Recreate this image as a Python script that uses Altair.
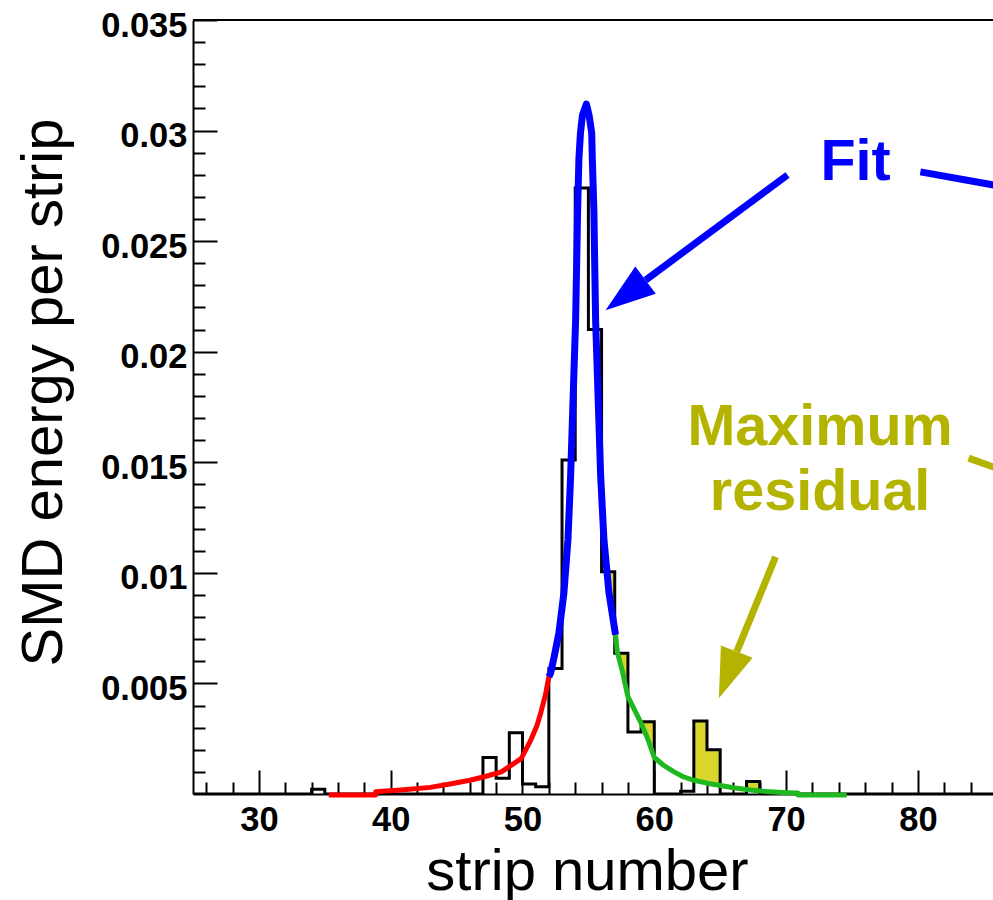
import altair as alt
import numpy as np
import pandas as pd

# ---------------- data ----------------
strip = list(range(25, 86))
energy = [
    0, 0, 0, 0, 0, 0, 0, 0, 0,            # 25-33
    0.00022,                              # 34
    0, 0, 0, 0, 0, 0, 0, 0, 0, 0, 0, 0,   # 35-46
    0.00165, 0.00071, 0.00277, 0.00045, 0.00033,   # 47-51
    0.00568, 0.0151, 0.0274, 0.0210, 0.01005,      # 52-56
    0.00636, 0.0028, 0.00327,                      # 57-59
    0, 0,                                          # 60-61
    0.00012, 0.0033, 0.0020,                       # 62-64
    0, 0,                                          # 65-66
    0.00056,                                       # 67
    0, 0, 0, 0, 0, 0, 0, 0, 0, 0, 0, 0, 0, 0, 0, 0, 0, 0,  # 68-85
]

fit_red_x = [35.3, 38.85, 38.86, 41.0, 43.0, 44.5, 46.0, 47.1, 48.4, 49.9, 50.6, 51.1, 51.4, 51.75, 52.0]
fit_red_y = [-0.00005, -0.00005, 0.0001, 0.00019, 0.0003, 0.00045, 0.00062, 0.00078, 0.001, 0.0016,
             0.0024, 0.0031, 0.0037, 0.0045, 0.0053]

fit_blue_x = [52.0, 52.13, 52.4, 52.76, 53.14, 53.45, 53.65, 53.78, 53.9, 54.03, 54.12, 54.18, 54.28,
              54.4, 54.55, 54.85, 55.05, 55.25, 55.3, 55.42, 55.47, 55.55, 55.68, 55.8, 55.93, 56.18,
              56.56, 57.06]
fit_blue_y = [0.0053, 0.00546, 0.0062, 0.00727, 0.00908, 0.0115, 0.01435, 0.01676, 0.019, 0.0214, 0.0243,
              0.0263, 0.0287, 0.0299, 0.0307, 0.0312, 0.0307, 0.0299, 0.0287, 0.0263, 0.0243, 0.0214,
              0.019, 0.0168, 0.0144, 0.0115, 0.0091, 0.0072]

fit_green_x = [57.06, 57.2, 57.6, 58.0, 58.5, 59.0, 59.5, 60.0, 60.7, 61.5, 62.2, 63.0, 64.0, 64.8,
               66.0, 67.3, 68.5, 70.0, 70.9, 70.91, 74.6]
fit_green_y = [0.0072, 0.0064, 0.0055, 0.0044, 0.0038, 0.0032, 0.0025, 0.00165, 0.0013, 0.001, 0.00078,
               0.00062, 0.00049, 0.00041, 0.00028, 0.00018, 0.00011, 0.00006, 0.00004, -0.00005, -0.00005]

residual_bins = [56, 57, 59, 63, 64, 67]

x_major = [30, 40, 50, 60, 70, 80]
x_minor = [v for v in range(26, 86, 2) if v % 10 != 0]
y_major = [0.005, 0.01, 0.015, 0.02, 0.025, 0.03, 0.035]
y_minor = [round(0.001 * i, 3) for i in range(1, 35) if i % 5 != 0]

# annotations (in data units)
arrow_x = [70.11, 69.2]
arrow_y = [0.02799, 0.01072]
arrow_x2 = [59.34, 66.26]
arrow_y2 = [0.02324, 0.00644]
arrow_color = ["blue", "olive"]
head_x = [57.82, 65.58]
head_y = [0.02256, 0.00538]
head_angle = [233, 201]
pointer_x = [80.19, 83.85]
pointer_y = [0.02813, 0.01519]
pointer_x2 = [86.5, 86.5]
pointer_y2 = [0.02746, 0.01462]
label_text = ["Fit", "Maximum\nresidual"]
label_x = [75.27, 72.58]
label_y = [0.02777, 0.01578]

X_DOMAIN = [25, 85.7]
Y_DOMAIN = [0, 0.035]
W, H = 800, 774
FONT = "Liberation Sans"
BLUE = "#0000ff"
OLIVE = "#b4b400"
YELLOW = "#d8d62c"
RED = "#ff0000"
GREEN = "#1fb81f"

xs = alt.Scale(domain=X_DOMAIN, nice=False, zero=False)
ys = alt.Scale(domain=Y_DOMAIN, nice=False, zero=False)

# ---------------- tables ----------------
hist_df = pd.DataFrame({"strip": strip + [strip[-1] + 1], "energy": energy + [energy[-1]]})

fit_all_x = np.array(fit_blue_x + fit_green_x[1:])
fit_all_y = np.array(fit_blue_y + fit_green_y[1:])
rows = []
for b in residual_bins:
    top = energy[strip.index(b)]
    gx = np.linspace(b, b + 1, 41)
    fy = np.interp(gx, fit_all_x, fit_all_y)
    lo = np.minimum(fy, top)
    for xv, lv in zip(gx, lo):
        rows.append({"x": float(xv), "lo": float(lv), "hi": top, "bin": b})
res_df = pd.DataFrame(rows)

red_df = pd.DataFrame({"x": fit_red_x, "y": fit_red_y})
blue_df = pd.DataFrame({"x": fit_blue_x, "y": fit_blue_y})
green_df = pd.DataFrame({"x": fit_green_x, "y": fit_green_y})
frame_df = pd.DataFrame({"x": [X_DOMAIN[0]], "x2": [X_DOMAIN[1]], "y": [Y_DOMAIN[1]]})
arrow_df = pd.DataFrame({"x": arrow_x, "y": arrow_y, "x2": arrow_x2, "y2": arrow_y2, "c": arrow_color})
head_df = pd.DataFrame({"x": head_x, "y": head_y, "angle": head_angle, "c": arrow_color})
pointer_df = pd.DataFrame({"x": pointer_x, "y": pointer_y, "x2": pointer_x2, "y2": pointer_y2, "c": arrow_color})
label_df = pd.DataFrame({"x": label_x, "y": label_y, "t": label_text, "c": arrow_color})

ann_color = alt.Color("c:N", scale=alt.Scale(domain=["blue", "olive"], range=[BLUE, OLIVE]), legend=None)

# ---------------- axes ----------------
x_label_axis = alt.Axis(values=x_major, ticks=False, tickSize=0, grid=False, domain=True,
                        domainColor="black", domainWidth=2, labelFont=FONT, labelFontSize=34.5,
                        labelFontWeight="bold", labelColor="black", labelBaseline="alphabetic",
                        labelPadding=36, labelFlush=False, labelOverlap=False,
                        title="strip number", titleFont=FONT, titleFontSize=58, titleFontWeight="normal",
                        titleColor="black", titleX=394, titleY=95, titleAlign="center",
                        titleBaseline="alphabetic", orient="bottom")
y_label_axis = alt.Axis(values=y_major, ticks=False, tickSize=0, grid=False, domain=True,
                        domainColor="black", domainWidth=2, labelFont=FONT, labelFontSize=34.5,
                        labelFontWeight="bold", labelColor="black", labelBaseline="alphabetic",
                        labelOffset=16, labelPadding=6, labelOverlap=False, labelFlush=False,
                        labelExpr="format(datum.value, '.3~f')",
                        title="SMD energy per strip", titleFont=FONT, titleFontSize=58,
                        titleFontWeight="normal", titleColor="black", titleAngle=270,
                        titleX=-132, titleY=372, titleAlign="center", titleBaseline="alphabetic",
                        orient="left")


def tick_axis(vals, size, orient, offset):
    return alt.Axis(values=vals, ticks=True, tickSize=size, tickWidth=2, tickColor="black",
                    labels=False, domain=False, grid=False, title=None, orient=orient, offset=offset)


# ---------------- layers ----------------
residual = alt.Chart(res_df).mark_area(color=YELLOW, opacity=1).encode(
    x=alt.X("x:Q", scale=xs, axis=None),
    y=alt.Y("lo:Q", scale=ys, axis=None),
    y2="hi:Q",
    detail="bin:N",
)

hist = alt.Chart(hist_df).mark_line(interpolate="step-after", color="black", strokeWidth=3, clip=True).encode(
    x=alt.X("strip:Q", scale=xs, axis=x_label_axis),
    y=alt.Y("energy:Q", scale=ys, axis=y_label_axis),
)


def fit_line(df, color, width):
    return alt.Chart(df).mark_line(color=color, strokeWidth=width, strokeJoin="round").encode(
        x=alt.X("x:Q", scale=xs, axis=None),
        y=alt.Y("y:Q", scale=ys, axis=None),
    )


red = fit_line(red_df, RED, 5)
green = fit_line(green_df, GREEN, 5)
blue = fit_line(blue_df, BLUE, 7)

frame = alt.Chart(frame_df).mark_rule(color="black", strokeWidth=2).encode(
    x=alt.X("x:Q", scale=xs, axis=tick_axis(x_major, 24, "top", -H)),
    x2="x2:Q",
    y=alt.Y("y:Q", scale=ys, axis=tick_axis(y_major, 24, "right", -W)),
)

minor = alt.Chart(frame_df).mark_point(opacity=0).encode(
    x=alt.X("x:Q", scale=xs, axis=tick_axis(x_minor, 12, "top", -H)),
    y=alt.Y("y:Q", scale=ys, axis=tick_axis(y_minor, 12, "right", -W)),
)

shafts = alt.Chart(arrow_df).mark_rule(strokeWidth=7, strokeCap="butt").encode(
    x=alt.X("x:Q", scale=xs, axis=None), y=alt.Y("y:Q", scale=ys, axis=None),
    x2="x2:Q", y2="y2:Q", color=ann_color,
)
pointers = alt.Chart(pointer_df).mark_rule(strokeWidth=7, strokeCap="butt").encode(
    x=alt.X("x:Q", scale=xs, axis=None), y=alt.Y("y:Q", scale=ys, axis=None),
    x2="x2:Q", y2="y2:Q", color=ann_color,
)
heads = alt.Chart(head_df).mark_point(shape="M0,-1L0.68,1L-0.68,1Z", size=2500, filled=True,
                                      opacity=1, strokeWidth=0).encode(
    x=alt.X("x:Q", scale=xs, axis=None), y=alt.Y("y:Q", scale=ys, axis=None),
    angle=alt.Angle("angle:Q", scale=None), color=ann_color,
)
labels = alt.Chart(label_df).mark_text(font=FONT, fontSize=57.5, fontWeight="bold", align="center",
                                       baseline="alphabetic", lineBreak="\n", lineHeight=65).encode(
    x=alt.X("x:Q", scale=xs, axis=None), y=alt.Y("y:Q", scale=ys, axis=None),
    text="t:N", color=ann_color,
)

chart = alt.layer(
    residual, hist, red, green, blue, frame, minor, shafts, pointers, heads, labels
).resolve_axis(x="independent", y="independent").properties(
    width=W, height=H,
    autosize=alt.AutoSizeParams(type="none"),
    padding={"left": 193, "top": 20, "right": 0, "bottom": 106},
    background="white",
).configure_view(stroke=None)

chart.save("out.html", embed_options={"renderer": "svg", "actions": False})
